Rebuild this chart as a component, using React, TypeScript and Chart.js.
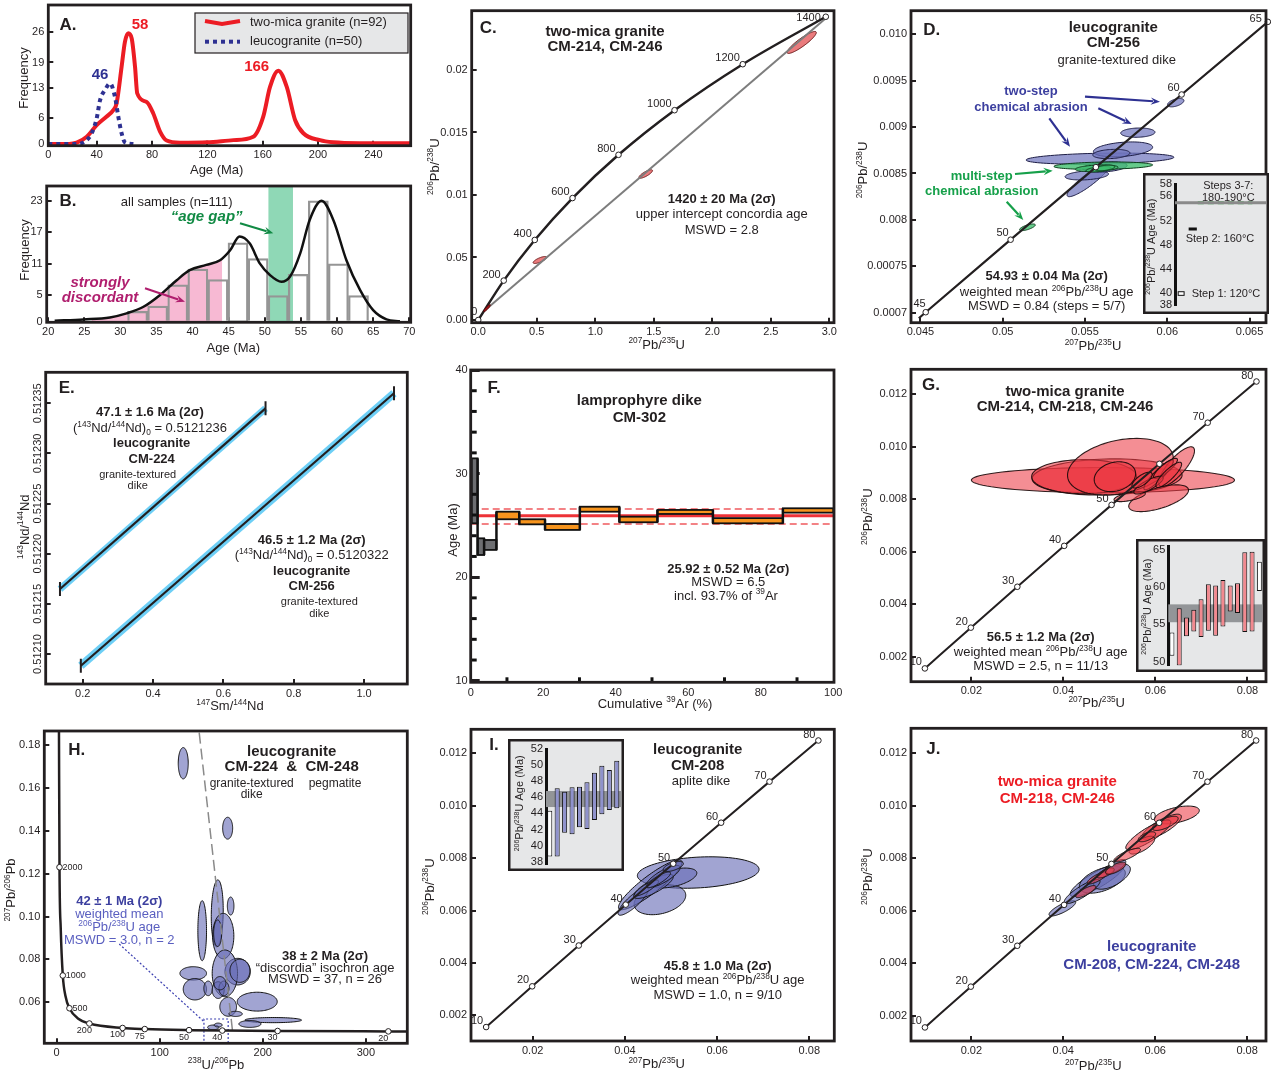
import React, { useEffect, useRef } from "react";
import { Chart, registerables } from "chart.js";

Chart.register(...registerables);

// ======================= DATA =======================
// Panel A – probability density curves
const twoMicaAge = [5, 20, 25.5, 32.8, 40, 47.2, 52, 54.4, 58, 60.4, 62.8, 65.3, 67.7, 69.3, 76.1, 80.9, 85.8, 90.6, 100, 120, 138.8, 153.2, 160.4, 165.3, 171.3, 177.4, 183.4, 189.4, 201.4, 211, 230, 267];
const twoMicaFreq = [0, 0, 0.3, 1.7, 4.4, 6.4, 7.9, 9.5, 18, 23.8, 25.8, 24.6, 18, 11.8, 9.8, 7.1, 2.9, 0.8, 0.3, 0.4, 0.9, 1.7, 6.4, 13.3, 17.1, 13.3, 5.6, 2.5, 0.9, 0.4, 0.2, 0.2];
const leucoAge = [5, 18.3, 26.7, 32.8, 36.4, 40, 42.4, 46, 49.6, 53.2, 55.6, 58, 60.4, 66.5];
const leucoFreq = [0, 0, 0, 0.9, 2.5, 6, 10.2, 12.6, 14.1, 11, 6.4, 2.5, 0.4, 0];
const aXTicks = [5, 40, 80, 120, 160, 200, 240];
const aXLabels = ["0", "40", "80", "120", "160", "200", "240"];
const aYTicks = [0, 6, 13, 19, 26];

// Panel B – histogram + KDE
const binCenters = [32.39, 35.17, 37.95, 40.73, 43.51, 46.29, 49.07, 51.85, 54.63, 57.41, 60.19, 62.97];
const binCounts = [2, 3, 7, 10, 8, 15, 12, 5, 9, 23, 11, 5];
const kdeAge = [20.9, 24.9, 28.55, 30.86, 33.2, 35.5, 37.8, 39.6, 41.9, 43.8, 45.2, 46.5, 47.9, 49.3, 50.7, 52.3, 53.5, 54.9, 56.2, 57.85, 59.5, 61.3, 63.2, 65, 66.85, 68.7];
const kdeFreq = [0.2, 0.45, 0.83, 1.6, 2.85, 5.1, 7.9, 9.8, 10.8, 11.7, 13.6, 16.2, 14.9, 11.1, 8.9, 7.6, 8.6, 13, 19.3, 23, 19.3, 11.7, 6, 2.2, 0.45, 0.1];
const pinkAge = [26, 28.55, 30.86, 33.2, 35.5, 37.8, 39.6, 41.9, 43.8, 44.1];
const pinkFreq = [0.55, 0.83, 1.6, 2.85, 5.1, 7.9, 9.8, 10.8, 11.7, 12.0];
const ageGap = [50.5, 53.9];
const bXTicks = [20, 25, 30, 35, 40, 45, 50, 55, 60, 65, 70];
const bYTicks = [0, 5, 11, 17, 23];

// Panel C – concordia (wide range)
const concAgesC = [0, 200, 400, 600, 800, 1000, 1200, 1400];
const concXC = [0, 0.2177, 0.4828, 0.8057, 1.1987, 1.6774, 2.2604, 2.970];
const concYC = [0, 0.003152, 0.006402, 0.009754, 0.013213, 0.016781, 0.02046, 0.024257];
const discXC = [0.06, 2.99];
const discYC = [0.0008, 0.0243];
const cEllipses = [
  [2.764, 0.0222, 0.125, 0.00088, 0.9],
  [1.431, 0.01168, 0.058, 0.00034, 0.8],
  [0.527, 0.0048, 0.058, 0.00028, 0.75],
];
const cEllipsesDark = [[0.075, 0.00095, 0.028, 0.00028, 0.9]];

// Panel D – CM-256 concordia
const concAgesD = [45, 50, 55, 60, 65];
const concXD = [0.04532, 0.05048, 0.05566, 0.06087, 0.06611];
const concYD = [0.007005, 0.0077864, 0.0085684, 0.0093509, 0.010134];
const dLineX = [0.0449, 0.04532, 0.05048, 0.05566, 0.06087, 0.06611];
const dLineY = [0.00694, 0.007005, 0.0077864, 0.0085684, 0.0093509, 0.010134];
const dBlueEllipses = [
  [0.06051, 0.009263, 0.0005, 0.000045, 0.5],
  [0.05821, 0.00894, 0.00104, 0.00005, 0.1],
  [0.05591, 0.00866, 0.00449, 0.00006, 0.25],
  [0.05731, 0.00876, 0.0018, 0.00008, 0.3],
  [0.0566, 0.00871, 0.00113, 0.00005, 0.2],
  [0.05521, 0.00843, 0.0013, 0.00018, 0.9],
  [0.05511, 0.00848, 0.00132, 0.00005, 0.3],
  [0.05621, 0.00857, 0.00135, 0.000055, 0.3],
];
const dGreenEllipses = [
  [0.0515, 0.00792, 0.00048, 0.000036, 0.7],
  [0.05611, 0.008584, 0.003, 0.00004, 0.2],
  [0.05571, 0.008556, 0.0013, 0.000036, 0.3],
  [0.05581, 0.008545, 0.00075, 0.00003, 0.5],
  [0.05621, 0.00856, 0.0006, 0.00003, 0.4],
];
const dMeanAge = 54.93;
const dGreenX = [25, 85];
const dStep2X = [15, 24];
const dStep2Age = 50.6;
const dStep1X = [3.5, 10];
const dStep1Age = [39.6, 40.2];
const dInsetTicks = [38, 40, 44, 48, 52, 56, 58];

// Panel E – Sm-Nd isochrons
const cm224X = [0.1354, 0.7199];
const cm224Y = [0.5121648, 0.512345];
const cm256X = [0.1947, 1.0852];
const cm256Y = [0.5120883, 0.51236];
const eYTicks = [0.5121, 0.51215, 0.5122, 0.51225, 0.5123, 0.51235];
const eYLabels = ["0.51210", "0.51215", "0.51220", "0.51225", "0.51230", "0.51235"];

// Panel F – 40Ar/39Ar step heating
const stepEdges = [0.3, 1.9, 3.7, 7.1, 13.4, 20.5, 30.1, 41.0, 51.5, 66.8, 86.1, 100];
const stepAgeLo = [25.2, 22.14, 22.63, 25.59, 25.1, 24.56, 26.32, 25.3, 26.1, 25.2, 26.23];
const stepAgeHi = [31.47, 23.75, 23.59, 26.32, 25.59, 25.13, 26.8, 25.84, 26.49, 25.7, 26.65];
const stepInPlateau = [false, false, false, true, true, true, true, true, true, true, true];
const plateauAge = 25.92;
const plateauBand = [25.13, 26.58];
const fMinorAge = [12, 14, 16, 18, 22, 24, 26, 28, 32, 34, 36, 38];
const fMinorPct = [10, 30, 50, 70, 90];

// Concordia 10–80 Ma (G, I, J)
const concAges = [10, 20, 30, 40, 50, 60, 70, 80];
const concX = [0.009897, 0.01989, 0.02999, 0.04018, 0.05048, 0.06087, 0.07137, 0.08197];
const concY = [0.001553, 0.003107, 0.004665, 0.006224, 0.007786, 0.009351, 0.010918, 0.012488];
const smallXTicks = [0.02, 0.04, 0.06, 0.08];
const smallYTicks = [0.002, 0.004, 0.006, 0.008, 0.01, 0.012];
const smallYLabels = ["0.002", "0.004", "0.006", "0.008", "0.010", "0.012"];

// Panel G
const gEllipses = [
  [0.0486, 0.00873, 0.0286, 0.00048, 0.0],
  [0.0495, 0.00885, 0.0163, 0.00069, 0.1],
  [0.0445, 0.00886, 0.0114, 0.00065, 0.0],
  [0.0524, 0.00924, 0.0115, 0.00108, 0.3],
  [0.0512, 0.00886, 0.0045, 0.00057, 0.2],
  [0.0646, 0.00924, 0.0039, 0.00076, 0.8],
  [0.0607, 0.00804, 0.0065, 0.00051, 0.6],
  [0.0544, 0.0081, 0.0034, 0.00019, 0.6],
  [0.0607, 0.00893, 0.0032, 0.00057, 0.9],
  [0.0622, 0.00918, 0.0026, 0.00038, 0.85],
  [0.0585, 0.00854, 0.0032, 0.00034, 0.8],
  [0.0571, 0.00873, 0.0022, 0.0003, 0.7],
  [0.0629, 0.00893, 0.0028, 0.00048, 0.85],
];
const gInsetLo = [50.8, 49.47, 53.4, 54.06, 53.31, 54.16, 53.49, 54.73, 56.74, 56.53, 53.98, 54.06, 59.51];
const gInsetHi = [53.93, 57.19, 55.94, 56.97, 58.4, 60.4, 60.22, 60.98, 60.22, 60.54, 64.69, 64.77, 63.43];
const gInsetUsed = [false, true, true, true, true, true, true, true, true, true, true, true, false];
const gMeanBand = [55.3, 57.7];

// Panel H – Tera-Wasserburg
const twAges = [2000, 1000, 500, 200, 100, 75, 50, 40, 30, 20];
const twX = [2.749, 5.959, 12.399, 31.735, 63.97, 85.46, 128.43, 160.66, 214.38, 321.8];
const twY = [0.123, 0.0725, 0.05722, 0.05011, 0.04802, 0.04751, 0.04702, 0.04682, 0.04662, 0.04643];
const twLineX = [2.2, 2.749, 3.9, 5.959, 8.6, 12.399, 21, 31.735, 63.97, 85.46, 128.43, 160.66, 214.38, 321.8, 345];
const twLineY = [0.19, 0.123, 0.095, 0.0725, 0.0628, 0.05722, 0.0523, 0.05011, 0.04802, 0.04751, 0.04702, 0.04682, 0.04662, 0.04643, 0.0464];
const hDiscX = [138.3, 170.7];
const hDiscY = [0.18574, 0.04628];
const hBoxX = [142.9, 166.4, 166.4, 142.9, 142.9];
const hBoxY = [0.04116, 0.04116, 0.05221, 0.05221, 0.04116];
const hLeaderX = [60.7, 142.9];
const hLeaderY = [0.0872, 0.051];
const hEllipses = [
  [122.8, 0.1715, 4.85, 0.0073, 0], [165.9, 0.1412, 4.85, 0.0051, 0], [155.8, 0.1015, 5.8, 0.0156, 0.1],
  [141.2, 0.0934, 4.2, 0.014, 0], [168.8, 0.1049, 3.2, 0.0042, 0], [161.6, 0.0909, 10.3, 0.0106, 0],
  [156.2, 0.0922, 3.9, 0.0062, 0], [175.6, 0.0743, 12.3, 0.0062, 0], [163.2, 0.0735, 12.3, 0.0109, 0],
  [132.5, 0.0735, 12.9, 0.0031, 0], [134.1, 0.0661, 11.3, 0.005, 0], [147.0, 0.0665, 4.2, 0.0034, 0],
  [156.7, 0.0657, 5.8, 0.0039, 0], [162.3, 0.0665, 4.85, 0.0034, 0], [166.4, 0.0579, 8.1, 0.0044, 0],
  [194.6, 0.0603, 19.4, 0.0044, 0], [210.1, 0.0517, 27.5, 0.0012, 0], [187.5, 0.0499, 10.7, 0.0016, 0],
  [173.6, 0.0546, 6.5, 0.0012, 0], [151.9, 0.0483, 5.5, 0.0011, 0], [156.7, 0.0494, 3.9, 0.0009, 0],
  [177.8, 0.0747, 9.7, 0.0054, 0], [158.4, 0.0689, 5.8, 0.0031, 0],
];

// Panel I
const iEllipses = [
  [0.0559, 0.00745, 0.0132, 0.0006, 0.2],
  [0.0476, 0.00641, 0.0056, 0.00057, 0.3],
  [0.0505, 0.00724, 0.0051, 0.00038, 0.5],
  [0.0455, 0.00698, 0.0069, 0.00095, 0.9],
  [0.0418, 0.00635, 0.0033, 0.00053, 0.85],
  [0.0462, 0.00692, 0.0043, 0.00046, 0.8],
  [0.0483, 0.0073, 0.0037, 0.00042, 0.8],
  [0.0505, 0.00768, 0.0022, 0.00019, 0.6],
  [0.0447, 0.00686, 0.0026, 0.0003, 0.85],
  [0.0473, 0.00717, 0.0026, 0.0003, 0.85],
];
const iInsetLo = [38.63, 38.63, 41.61, 41.41, 42.29, 42.07, 43.2, 43.9, 44.44, 44.65];
const iInsetHi = [44.35, 47.14, 46.72, 47.27, 47.34, 47.89, 49.08, 49.96, 49.42, 50.58];
const iInsetUsed = [false, true, true, true, true, true, true, true, true, true];
const iMeanBand = [44.8, 46.8];

// Panel J
const jBlueEllipses = [
  [0.0474, 0.00718, 0.0059, 0.00064, 0.85],
  [0.0485, 0.00718, 0.005, 0.00051, 0.5],
  [0.0398, 0.00609, 0.0029, 0.00029, 0.8],
  [0.0506, 0.0073, 0.004, 0.00048, 0.6],
  [0.0441, 0.00673, 0.0039, 0.00046, 0.85],
  [0.0514, 0.00768, 0.0022, 0.00027, 0.7],
];
const jRedEllipses = [
  [0.0647, 0.00965, 0.0049, 0.00034, 0.5],
  [0.0614, 0.0092, 0.0043, 0.00048, 0.8],
  [0.0585, 0.00889, 0.0049, 0.00057, 0.85],
  [0.0571, 0.0085, 0.0028, 0.00034, 0.7],
  [0.0539, 0.00812, 0.0029, 0.00026, 0.8],
  [0.0622, 0.00933, 0.0028, 0.00027, 0.7],
  [0.0582, 0.00882, 0.0019, 0.00019, 0.6],
  [0.0474, 0.00725, 0.0022, 0.00023, 0.8],
  [0.0492, 0.00744, 0.0019, 0.00019, 0.7],
  [0.0449, 0.00673, 0.0022, 0.00023, 0.8],
  [0.0514, 0.00762, 0.0022, 0.00023, 0.7],
];

// ======================= STYLE / HELPERS =======================
const FAM = '"Liberation Sans", Arial, "DejaVu Sans", sans-serif';
const INK = "#231f20";
const RED = "#ec1c24";
const NAVY = "#2e3192";
const PURP = "#3c3f9f";
const RY = -Math.PI / 2;
Chart.defaults.font.family = FAM;
Chart.defaults.color = INK;

type Txt = [string, number, number, number, string, string, string, number];
const T = (s: string, x: number, y: number, size = 13, style = "normal", color = INK, align = "center", rot = 0): Txt =>
  [s, x, y, size, style, color, align, rot];
const pts = (xs: number[], ys: number[]) => xs.map((x, i) => ({ x, y: ys[i] }));

function parseRich(s: string) {
  const out: { t: string; m: number }[] = [];
  let buf = "";
  let i = 0;
  while (i < s.length) {
    const c = s[i];
    if ((c === "^" || c === "_") && s[i + 1] === "{") {
      if (buf) { out.push({ t: buf, m: 0 }); buf = ""; }
      const j = s.indexOf("}", i);
      out.push({ t: s.slice(i + 2, j), m: c === "^" ? 1 : -1 });
      i = j + 1;
    } else { buf += c; i++; }
  }
  if (buf) out.push({ t: buf, m: 0 });
  return out;
}

function drawRich(ctx: CanvasRenderingContext2D, tx: Txt) {
  const [s, x, y, size, style, color, align, rot] = tx;
  const segs = parseRich(s);
  const fontOf = (m: number) => `${style} ${m ? Math.round(size * 6.4) / 10 : size}px ${FAM}`;
  const ws: number[] = [];
  let w = 0;
  for (const sg of segs) { ctx.font = fontOf(sg.m); const v = ctx.measureText(sg.t).width; ws.push(v); w += v; }
  ctx.save();
  ctx.translate(x, y);
  if (rot) ctx.rotate(rot);
  ctx.fillStyle = color; ctx.textAlign = "left"; ctx.textBaseline = "middle";
  let px = align === "center" ? -w / 2 : align === "right" ? -w : 0;
  segs.forEach((sg, i) => {
    ctx.font = fontOf(sg.m);
    const dy = sg.m === 1 ? -size * 0.3 : sg.m === -1 ? size * 0.32 : 0;
    ctx.fillText(sg.t, px, dy);
    px += ws[i];
  });
  ctx.restore();
}

function drawArrow(ctx: CanvasRenderingContext2D, x1: number, y1: number, x2: number, y2: number, color: string, lw = 2.2, head = 10) {
  const a = Math.atan2(y2 - y1, x2 - x1);
  ctx.save();
  ctx.strokeStyle = color; ctx.fillStyle = color; ctx.lineWidth = lw;
  ctx.beginPath(); ctx.moveTo(x1, y1); ctx.lineTo(x2 - Math.cos(a) * head * 0.7, y2 - Math.sin(a) * head * 0.7); ctx.stroke();
  ctx.beginPath();
  ctx.moveTo(x2, y2);
  ctx.lineTo(x2 - head * Math.cos(a - 0.38), y2 - head * Math.sin(a - 0.38));
  ctx.lineTo(x2 - head * 0.6 * Math.cos(a), y2 - head * 0.6 * Math.sin(a));
  ctx.lineTo(x2 - head * Math.cos(a + 0.38), y2 - head * Math.sin(a + 0.38));
  ctx.closePath(); ctx.fill();
  ctx.restore();
}

function drawEllipses(c: any, list: number[][], fill: string, stroke: string, lw = 1) {
  const { ctx, chartArea: ca } = c;
  const X = c.scales.x, Y = c.scales.y;
  ctx.save();
  ctx.beginPath(); ctx.rect(ca.left, ca.top, ca.right - ca.left, ca.bottom - ca.top); ctx.clip();
  for (const [cx, cy, sx, sy, r] of list) {
    const q = Math.sqrt(1 - r * r);
    ctx.beginPath();
    for (let k = 0; k <= 90; k++) {
      const t = (k / 90) * Math.PI * 2;
      const px = X.getPixelForValue(cx + sx * Math.cos(t));
      const py = Y.getPixelForValue(cy + sy * (r * Math.cos(t) + q * Math.sin(t)));
      if (k === 0) ctx.moveTo(px, py); else ctx.lineTo(px, py);
    }
    ctx.closePath();
    ctx.fillStyle = fill; ctx.fill();
    ctx.strokeStyle = stroke; ctx.lineWidth = lw; ctx.stroke();
  }
  ctx.restore();
}

function axis(a: any, isX: boolean, size: number) {
  return {
    type: "linear", min: a.min, max: a.max, bounds: "data", offset: false,
    afterBuildTicks: (s: any) => { s.ticks = a.ticks.map((v: number) => ({ value: v })); },
    afterFit: (s: any) => {
      if (isX) s.height = size; else s.width = size;
      s.paddingLeft = 0; s.paddingRight = 0; s.paddingTop = 0; s.paddingBottom = 0;
    },
    ticks: {
      display: !a.hideLabels, autoSkip: false, maxRotation: 0, minRotation: 0,
      padding: a.pad ?? (isX ? 8 : 9), color: INK, font: { family: FAM, size: 11 },
      callback: (_v: any, i: number) => a.labels[i],
    },
    grid: { display: true, offset: false, drawOnChartArea: false, drawTicks: !a.noTicks, tickLength: a.tl ?? -5, lineWidth: a.tw ?? 2, color: INK },
    border: { display: false },
  };
}

function concordiaSets(xs: number[], ys: number[], lw: number, lx?: number[], ly?: number[]) {
  return [
    { data: pts(xs, ys), showLine: false, pointRadius: 2.8, pointBackgroundColor: "#fff", pointBorderColor: INK, pointBorderWidth: 1, order: 0, clip: false },
    { data: pts(lx ?? xs, ly ?? ys), borderColor: INK, borderWidth: lw, pointRadius: 0, order: 1, cubicInterpolationMode: "monotone" },
  ];
}

function mainConfig(sp: any) {
  const [cx, cy, cw, ch] = sp.cell;
  const [l, t, r, b] = sp.frame;
  const padL = l - cx, padT = t - cy, padR = cx + cw - r, padB = cy + ch - b;
  const plugin = {
    id: "panelDraw",
    beforeDatasetsDraw(c: any) { if (sp.before) sp.before(c); },
    afterDatasetsDraw(c: any) {
      if (sp.after) sp.after(c);
      const m = sp.markers;
      if (m) {
        const meta = c.getDatasetMeta(m.ds);
        meta.data.forEach((p: any, i: number) => {
          if (m.skip && m.skip.includes(i)) return;
          const o = m.place ? m.place(i) : [m.dx, m.dy, m.align];
          drawRich(c.ctx, T(m.labels[i], p.x + o[0], p.y + o[1], m.size, "normal", INK, o[2]));
        });
      }
    },
    afterDraw(c: any) {
      const ctx = c.ctx, ca = c.chartArea;
      ctx.save();
      ctx.strokeStyle = INK; ctx.lineWidth = 2.8;
      ctx.strokeRect(ca.left, ca.top, ca.right - ca.left, ca.bottom - ca.top);
      ctx.restore();
      if (sp.rotYLabels) {
        const ys = c.scales.y;
        sp.y.ticks.forEach((v: number, i: number) =>
          drawRich(ctx, T(sp.y.labels[i], ca.left - 8, ys.getPixelForValue(v), 11, "normal", INK, "center", RY)));
      }
      ctx.save();
      ctx.translate(-cx, -cy);
      if (sp.overlay) sp.overlay(ctx);
      sp.texts.forEach((tx: Txt) => drawRich(ctx, tx));
      ctx.restore();
    },
  };
  return {
    type: "line",
    data: { datasets: sp.datasets },
    options: {
      animation: false, responsive: false, devicePixelRatio: 1, events: [],
      layout: { padding: { left: 0, top: padT, right: padR, bottom: 0 } },
      plugins: { legend: { display: false }, tooltip: { enabled: false } },
      scales: { x: axis(sp.x, true, padB), y: axis(sp.y, false, padL) },
    },
    plugins: [plugin],
  };
}

function insetConfig(sp: any) {
  const [cx, cy, cw, ch] = sp.rect;
  const [l, t, r, b] = sp.area;
  const padL = l - cx, padT = t - cy, padR = cx + cw - r, padB = cy + ch - b;
  const plugin = {
    id: "insetDraw",
    beforeDraw(c: any) {
      const ctx = c.ctx;
      ctx.save();
      ctx.fillStyle = "#e6e7e8"; ctx.fillRect(0, 0, cw, ch);
      ctx.strokeStyle = INK; ctx.lineWidth = 2.5; ctx.strokeRect(1.25, 1.25, cw - 2.5, ch - 2.5);
      ctx.restore();
    },
    beforeDatasetsDraw(c: any) {
      if (!sp.band) return;
      const Y = c.scales.y, ctx = c.ctx;
      const yt = Y.getPixelForValue(sp.band[1]), yb = Y.getPixelForValue(sp.band[0]);
      ctx.save(); ctx.fillStyle = "#939598";
      ctx.fillRect(c.chartArea.left, yt, cw - 2.5 - c.chartArea.left, yb - yt);
      ctx.restore();
    },
    afterDatasetsDraw(c: any) { if (sp.after) sp.after(c); },
    afterDraw(c: any) {
      const ctx = c.ctx;
      ctx.save(); ctx.translate(-cx, -cy);
      sp.texts.forEach((tx: Txt) => drawRich(ctx, tx));
      ctx.restore();
    },
  };
  return {
    type: sp.type,
    data: { labels: sp.labels, datasets: sp.datasets },
    options: {
      animation: false, responsive: false, devicePixelRatio: 1, events: [],
      layout: { padding: { left: 0, top: padT, right: padR, bottom: padB } },
      plugins: { legend: { display: false }, tooltip: { enabled: false } },
      scales: {
        x: sp.type === "bar" ? { type: "category", display: false, offset: true } : { type: "linear", display: false, min: 0, max: 100 },
        y: {
          type: "linear", min: sp.y.min, max: sp.y.max, bounds: "data",
          afterBuildTicks: (s: any) => { s.ticks = sp.y.ticks.map((v: number) => ({ value: v })); },
          afterFit: (s: any) => { s.width = padL; s.paddingLeft = 0; s.paddingRight = 0; s.paddingTop = 0; s.paddingBottom = 0; },
          ticks: { autoSkip: false, padding: 3, color: INK, font: { family: FAM, size: 11 }, callback: (v: any) => String(v) },
          grid: { display: false, drawTicks: false, tickLength: 0 },
          border: { display: true, width: 3, color: "#111" },
        },
      },
    },
    plugins: [plugin],
  };
}

// ======================= PANELS =======================
const xTitle = (s: string, x: number, y: number) => T(s, x, y, 13);
const yTitle = (s: string, x: number, y: number) => T(s, x, y, 13, "normal", INK, "center", RY);

const specs: any[] = [
  // ---------- A ----------
  {
    cell: [0, 0, 420, 180], frame: [48.3, 5, 410.7, 145.7],
    x: { min: 5, max: 267, ticks: aXTicks, labels: aXLabels },
    y: { min: -0.4, max: 32.4, ticks: aYTicks, labels: aYTicks.map(String) },
    datasets: [
      { data: pts(leucoAge, leucoFreq), borderColor: NAVY, borderWidth: 4, borderDash: [4, 4], pointRadius: 0, cubicInterpolationMode: "monotone", order: 0 },
      { data: pts(twoMicaAge, twoMicaFreq), borderColor: RED, borderWidth: 4, pointRadius: 0, cubicInterpolationMode: "monotone", order: 1 },
    ],
    overlay: (ctx: CanvasRenderingContext2D) => {
      ctx.save();
      ctx.fillStyle = "#e6e7e8"; ctx.fillRect(195, 13, 213, 40);
      ctx.strokeStyle = INK; ctx.lineWidth = 1.2; ctx.strokeRect(195, 13, 213, 40);
      ctx.lineWidth = 4; ctx.strokeStyle = RED;
      ctx.beginPath(); ctx.moveTo(205, 21); ctx.lineTo(222, 24); ctx.lineTo(240, 21); ctx.stroke();
      ctx.strokeStyle = NAVY; ctx.setLineDash([4, 4]);
      ctx.beginPath(); ctx.moveTo(205, 41.7); ctx.lineTo(240, 41.7); ctx.stroke();
      ctx.restore();
    },
    texts: [
      T("A.", 68, 25, 17, "bold"),
      T("58", 140, 25, 15, "bold", RED),
      T("46", 100, 75, 15, "bold", NAVY),
      T("166", 256.7, 67, 15, "bold", RED),
      T("two-mica granite (n=92)", 250, 22.7, 13, "normal", INK, "left"),
      T("leucogranite (n=50)", 250, 41.7, 13, "normal", INK, "left"),
      xTitle("Age (Ma)", 216.7, 170),
      yTitle("Frequency", 24, 78),
    ],
  },
  // ---------- B ----------
  {
    cell: [0, 180, 420, 180], frame: [46.7, 186, 410.7, 322.3],
    x: { min: 19.8, max: 70.2, ticks: bXTicks, labels: bXTicks.map(String) },
    y: { min: -0.1, max: 25.8, ticks: bYTicks, labels: bYTicks.map(String) },
    datasets: [
      { type: "line", data: pts(kdeAge, kdeFreq), borderColor: "#111", borderWidth: 2.5, pointRadius: 0, cubicInterpolationMode: "monotone", order: 0 },
      { type: "bar", data: pts(binCenters, binCounts), backgroundColor: "rgba(255,255,255,0)", borderColor: "#959595", borderWidth: 1.6, barPercentage: 1, categoryPercentage: 1, order: 1 },
      { type: "line", data: pts(pinkAge, pinkFreq), borderWidth: 0, borderColor: "rgba(0,0,0,0)", backgroundColor: "#f7b9d3", fill: "origin", pointRadius: 0, cubicInterpolationMode: "monotone", order: 2 },
    ],
    before: (c: any) => {
      const X = c.scales.x, ca = c.chartArea, ctx = c.ctx;
      const x0 = X.getPixelForValue(ageGap[0]), x1 = X.getPixelForValue(ageGap[1]);
      ctx.save(); ctx.fillStyle = "#8fd8b6"; ctx.fillRect(x0, ca.top, x1 - x0, ca.bottom - ca.top); ctx.restore();
    },
    overlay: (ctx: CanvasRenderingContext2D) => {
      drawArrow(ctx, 240, 223.3, 273.3, 233.3, "#118a44");
      drawArrow(ctx, 145, 288.3, 185, 301.7, "#b01e6e");
    },
    texts: [
      T("B.", 68, 201.7, 17, "bold"),
      T("all samples (n=111)", 176.7, 202.7, 13),
      T("\u201cage gap\u201d", 206.7, 216.7, 15, "italic bold", "#118a44"),
      T("strongly", 100, 283.3, 15, "italic bold", "#b01e6e"),
      T("discordant", 100, 298.3, 15, "italic bold", "#b01e6e"),
      xTitle("Age (Ma)", 233.3, 348.3),
      yTitle("Frequency", 25, 250),
    ],
  },
  // ---------- C ----------
  {
    cell: [420, 0, 430, 360], frame: [471.7, 10.7, 834, 322.7],
    x: { min: -0.056, max: 3.04, ticks: [0, 0.5, 1, 1.5, 2, 2.5, 3], labels: ["0.0", "0.5", "1.0", "1.5", "2.0", "2.5", "3.0"] },
    y: { min: -0.000216, max: 0.02474, ticks: [0, 0.005, 0.01, 0.015, 0.02], labels: ["0.00", "0.05", "0.01", "0.015", "0.02"] },
    datasets: [
      ...concordiaSets(concXC, concYC, 2.5),
      { data: pts(discXC, discYC), borderColor: "#7d7d7d", borderWidth: 2, pointRadius: 0, order: 2 },
    ],
    before: (c: any) => drawEllipses(c, cEllipses, "#ea7b7d", "#6b1a1a", 1),
    after: (c: any) => drawEllipses(c, cEllipsesDark, "#a8151c", "#5a0a0a", 1),
    markers: {
      ds: 0, labels: concAgesC.map(String), size: 11,
      place: (i: number) => (i === 7 ? [-5, 1, "right"] : i === 0 ? [-1, -8, "right"] : [-3, -6, "right"]),
    },
    texts: [
      T("C.", 488.3, 28.3, 17, "bold"),
      T("two-mica granite", 605, 31.7, 15, "bold"),
      T("CM-214, CM-246", 605, 46.7, 15, "bold"),
      T("1420 \u00b1 20 Ma (2\u03c3)", 721.7, 199, 13, "bold"),
      T("upper intercept concordia age", 721.7, 214.3, 13),
      T("MSWD = 2.8", 721.7, 230, 13),
      xTitle("^{207}Pb/^{235}U", 656.7, 345),
      yTitle("^{206}Pb/^{238}U", 435, 166.7),
    ],
  },
  // ---------- D ----------
  {
    cell: [850, 0, 421, 360], frame: [911, 10.7, 1268, 322.7],
    x: { min: 0.044426, max: 0.065997, ticks: [0.045, 0.05, 0.055, 0.06, 0.065], labels: ["0.045", "0.05", "0.055", "0.06", "0.065"] },
    y: { min: 0.006892, max: 0.010254, ticks: [0.007, 0.0075, 0.008, 0.0085, 0.009, 0.0095, 0.01], labels: ["0.0007", "0.00075", "0.008", "0.0085", "0.009", "0.0095", "0.010"] },
    datasets: concordiaSets(concXD, concYD, 2.2, dLineX, dLineY),
    before: (c: any) => {
      drawEllipses(c, dBlueEllipses, "rgba(112,118,190,0.72)", "#1d1d45", 1);
      drawEllipses(c, dGreenEllipses, "rgba(64,190,110,0.8)", "#0d3d1d", 1);
    },
    markers: {
      ds: 0, labels: concAgesD.map(String), size: 11, skip: [2],
      place: (i: number) => (i === 4 ? [-6, -3, "right"] : i === 0 ? [0, -8, "right"] : [-2, -7, "right"]),
    },
    overlay: (ctx: CanvasRenderingContext2D) => {
      drawArrow(ctx, 1085, 96.7, 1160, 101.7, NAVY);
      drawArrow(ctx, 1098.3, 108.3, 1131.7, 124, NAVY);
      drawArrow(ctx, 1049.3, 118.3, 1070, 146.7, NAVY);
      drawArrow(ctx, 1015, 174, 1052.7, 170.7, "#16a04a");
      drawArrow(ctx, 1006.7, 201.7, 1023.3, 220, "#16a04a");
    },
    texts: [
      T("D.", 931.7, 30.7, 17, "bold"),
      T("leucogranite", 1113.3, 28.3, 15, "bold"),
      T("CM-256", 1113.3, 42.7, 15, "bold"),
      T("granite-textured dike", 1116.7, 60, 13),
      T("two-step", 1031, 91.7, 13, "bold", PURP),
      T("chemical abrasion", 1031, 107.3, 13, "bold", PURP),
      T("multi-step", 981.7, 176, 13, "bold", "#16a04a"),
      T("chemical abrasion", 981.7, 191.7, 13, "bold", "#16a04a"),
      T("54.93 \u00b1 0.04 Ma (2\u03c3)", 1046.7, 276.7, 13, "bold"),
      T("weighted mean ^{206}Pb/^{238}U age", 1046.7, 292.3, 13),
      T("MSWD = 0.84 (steps = 5/7)", 1046.7, 306.7, 13),
      xTitle("^{207}Pb/^{235}U", 1093, 346.7),
      yTitle("^{206}Pb/^{238}U", 863.3, 170),
    ],
  },
  // ---------- E ----------
  {
    cell: [0, 360, 420, 360], frame: [45.7, 372.3, 407.3, 684],
    x: { min: 0.0948, max: 1.123, ticks: [0.2, 0.4, 0.6, 0.8, 1.0], labels: ["0.2", "0.4", "0.6", "0.8", "1.0"] },
    y: { min: 0.5120701, max: 0.5123809, ticks: eYTicks, labels: eYLabels, hideLabels: true },
    rotYLabels: true,
    datasets: [
      { data: pts(cm224X, cm224Y), borderColor: INK, borderWidth: 2.2, pointStyle: "line", pointRotation: 90, pointRadius: 7, pointBorderWidth: 2, pointBorderColor: INK, order: 0 },
      { data: pts(cm256X, cm256Y), borderColor: INK, borderWidth: 2.2, pointStyle: "line", pointRotation: 90, pointRadius: 7, pointBorderWidth: 2, pointBorderColor: INK, order: 0 },
      { data: pts(cm224X, cm224Y), borderColor: "#6dcff6", borderWidth: 7, pointRadius: 0, order: 2 },
      { data: pts(cm256X, cm256Y), borderColor: "#6dcff6", borderWidth: 8, pointRadius: 0, order: 2 },
    ],
    texts: [
      T("E.", 66.7, 388.3, 17, "bold"),
      T("47.1 \u00b1 1.6 Ma (2\u03c3)", 150, 412.3, 13, "bold"),
      T("(^{143}Nd/^{144}Nd)_{0} = 0.5121236", 150, 428.3, 13),
      T("leucogranite", 151.7, 443.3, 13, "bold"),
      T("CM-224", 151.7, 459, 13, "bold"),
      T("granite-textured", 137.7, 475, 11),
      T("dike", 137.7, 486, 11),
      T("46.5 \u00b1 1.2 Ma (2\u03c3)", 311.7, 540, 13, "bold"),
      T("(^{143}Nd/^{144}Nd)_{0} = 0.5120322", 311.7, 555.7, 13),
      T("leucogranite", 311.7, 571, 13, "bold"),
      T("CM-256", 311.7, 586.7, 13, "bold"),
      T("granite-textured", 319.3, 602.3, 11),
      T("dike", 319.3, 614, 11),
      xTitle("^{147}Sm/^{144}Nd", 230, 706.7),
      yTitle("^{143}Nd/^{144}Nd", 25, 526.7),
    ],
  },
  // ---------- F ----------
  {
    cell: [420, 360, 430, 360], frame: [470.7, 370, 834, 682.3],
    x: { min: 0, max: 100.2, ticks: [0, 20, 40, 60, 80, 100], labels: ["0", "20", "40", "60", "80", "100"], noTicks: true, pad: 4 },
    y: { min: 9.85, max: 40, ticks: [10, 20, 30, 40], labels: ["10", "20", "30", "40"], tl: -9, tw: 3, pad: 12 },
    datasets: [
      { data: pts([0, 100.2], [plateauAge, plateauAge]), borderColor: "#ed3237", borderWidth: 3, pointRadius: 0, order: 1 },
      { data: pts([0, 100.2], [plateauBand[1], plateauBand[1]]), borderColor: "#ef5a5e", borderWidth: 1.4, borderDash: [7, 4], pointRadius: 0, order: 2 },
      { data: pts([0, 100.2], [plateauBand[0], plateauBand[0]]), borderColor: "#ef5a5e", borderWidth: 1.4, borderDash: [7, 4], pointRadius: 0, order: 2 },
    ],
    after: (c: any) => {
      const X = c.scales.x, Y = c.scales.y, ctx = c.ctx, ca = c.chartArea;
      ctx.save();
      for (let i = 0; i < stepAgeLo.length; i++) {
        const x0 = X.getPixelForValue(stepEdges[i]), x1 = X.getPixelForValue(stepEdges[i + 1]);
        const yt = Y.getPixelForValue(stepAgeHi[i]), yb = Y.getPixelForValue(stepAgeLo[i]);
        ctx.fillStyle = stepInPlateau[i] ? "#f7941d" : "#6d6e71";
        ctx.fillRect(x0, yt, x1 - x0, yb - yt);
        ctx.strokeStyle = "#111"; ctx.lineWidth = 1.8;
        ctx.strokeRect(x0, yt, x1 - x0, yb - yt);
      }
      ctx.lineWidth = 2.5; ctx.strokeStyle = "#111";
      for (let i = 0; i < stepAgeLo.length - 1; i++) {
        const xb = X.getPixelForValue(stepEdges[i + 1]);
        const lo = Math.min(stepAgeLo[i], stepAgeLo[i + 1]), hi = Math.max(stepAgeHi[i], stepAgeHi[i + 1]);
        ctx.beginPath(); ctx.moveTo(xb, Y.getPixelForValue(hi)); ctx.lineTo(xb, Y.getPixelForValue(lo)); ctx.stroke();
      }
      ctx.lineWidth = 3;
      for (const v of fMinorAge) {
        const y = Y.getPixelForValue(v);
        ctx.beginPath(); ctx.moveTo(ca.left, y); ctx.lineTo(ca.left + 6, y); ctx.stroke();
      }
      for (const v of fMinorPct) {
        const x = X.getPixelForValue(v);
        ctx.beginPath(); ctx.moveTo(x, ca.bottom); ctx.lineTo(x, ca.bottom - 5); ctx.stroke();
      }
      ctx.restore();
    },
    texts: [
      T("F.", 494, 388.3, 17, "bold"),
      T("lamprophyre dike", 639.3, 400.7, 15, "bold"),
      T("CM-302", 639.3, 418.3, 15, "bold"),
      T("25.92 \u00b1 0.52 Ma (2\u03c3)", 728.3, 569.3, 13, "bold"),
      T("MSWD = 6.5", 728.3, 582.7, 13),
      T("incl. 93.7% of ^{39}Ar", 726, 596, 13),
      xTitle("Cumulative ^{39}Ar (%)", 655, 704),
      yTitle("Age (Ma)", 453.3, 530),
    ],
  },
  // ---------- G ----------
  {
    cell: [850, 360, 421, 360], frame: [911, 369.3, 1268, 681.7],
    x: { min: 0.00688, max: 0.08404, ticks: smallXTicks, labels: ["0.02", "0.04", "0.06", "0.08"] },
    y: { min: 0.001047, max: 0.012953, ticks: smallYTicks, labels: smallYLabels },
    datasets: concordiaSets(concX, concY, 2),
    before: (c: any) => drawEllipses(c, gEllipses, "rgba(236,56,66,0.57)", "rgba(25,10,10,0.9)", 1.1),
    markers: { ds: 0, labels: concAges.map(String), dx: -3, dy: -6, align: "right", size: 11, skip: [5] },
    texts: [
      T("G.", 931, 385, 17, "bold"),
      T("two-mica granite", 1065, 391.7, 15, "bold"),
      T("CM-214, CM-218, CM-246", 1065, 407.3, 15, "bold"),
      T("56.5 \u00b1 1.2 Ma (2\u03c3)", 1040.7, 637.7, 13, "bold"),
      T("weighted mean ^{206}Pb/^{238}U age", 1040.7, 652.3, 13),
      T("MSWD = 2.5, n = 11/13", 1040.7, 666.7, 13),
      xTitle("^{207}Pb/^{235}U", 1096.7, 703.3),
      yTitle("^{206}Pb/^{238}U", 868.3, 516.7),
    ],
  },
  // ---------- H ----------
  {
    cell: [0, 720, 420, 353], frame: [44.3, 731, 407.3, 1043.3],
    x: { min: -12, max: 340.2, ticks: [0, 100, 200, 300], labels: ["0", "100", "200", "300"] },
    y: { min: 0.04088, max: 0.18653, ticks: [0.06, 0.08, 0.1, 0.12, 0.14, 0.16, 0.18], labels: ["0.06", "0.08", "0.10", "0.12", "0.14", "0.16", "0.18"] },
    datasets: [
      ...concordiaSets(twX, twY, 2.5, twLineX, twLineY),
      { data: pts(hDiscX, hDiscY), borderColor: "#8a8a8a", borderWidth: 1.5, borderDash: [11, 5], pointRadius: 0, order: 2 },
      { data: pts(hBoxX, hBoxY), borderColor: "#3b3fb0", borderWidth: 1.2, borderDash: [2, 2], pointRadius: 0, order: 3 },
      { data: pts(hLeaderX, hLeaderY), borderColor: "#3b3fb0", borderWidth: 1.2, borderDash: [2, 2], pointRadius: 0, order: 3 },
    ],
    before: (c: any) => drawEllipses(c, hEllipses, "rgba(104,108,182,0.62)", "#111", 1),
    markers: {
      ds: 0, labels: twAges.map(String), size: 9,
      place: (i: number) => (i < 3 ? [3, 0, "left"] : [-5, 7, "center"]),
    },
    texts: [
      T("H.", 76.7, 750, 17, "bold"),
      T("leucogranite", 291.7, 752.3, 15, "bold"),
      T("CM-224  &  CM-248", 291.7, 767.3, 15, "bold"),
      T("granite-textured", 251.7, 783.3, 12),
      T("dike", 251.7, 795, 12),
      T("pegmatite", 335, 783.3, 12),
      T("42 \u00b1 1 Ma (2\u03c3)", 119.3, 901.7, 13, "bold", PURP),
      T("weighted mean", 119.3, 914.3, 13, "normal", "#5a5fc0"),
      T("^{206}Pb/^{238}U age", 119.3, 927.3, 13, "normal", "#5a5fc0"),
      T("MSWD = 3.0, n = 2", 119.3, 940, 13, "normal", "#5a5fc0"),
      T("38 \u00b1 2 Ma (2\u03c3)", 325, 956.7, 13, "bold"),
      T("\u201cdiscordia\u201d isochron age", 325, 968.3, 13),
      T("MSWD = 37, n = 26", 325, 979.3, 13),
      xTitle("^{238}U/^{206}Pb", 216, 1065),
      yTitle("^{207}Pb/^{206}Pb", 11.7, 890),
    ],
  },
  // ---------- I ----------
  {
    cell: [420, 720, 430, 353], frame: [471, 729.3, 834.3, 1041],
    x: { min: 0.006616, max: 0.08542, ticks: smallXTicks, labels: ["0.02", "0.04", "0.06", "0.08"] },
    y: { min: 0.001021, max: 0.012915, ticks: smallYTicks, labels: smallYLabels },
    datasets: concordiaSets(concX, concY, 2),
    before: (c: any) => drawEllipses(c, iEllipses, "rgba(104,108,182,0.62)", "#111", 1),
    markers: { ds: 0, labels: concAges.map(String), dx: -3, dy: -6, align: "right", size: 11 },
    texts: [
      T("I.", 494, 745, 17, "bold"),
      T("leucogranite", 697.7, 750, 15, "bold"),
      T("CM-208", 697.7, 765.7, 15, "bold"),
      T("aplite dike", 701, 781, 13),
      T("45.8 \u00b1 1.0 Ma (2\u03c3)", 717.7, 966.7, 13, "bold"),
      T("weighted mean ^{206}Pb/^{238}U age", 717.7, 980.7, 13),
      T("MSWD = 1.0, n = 9/10", 717.7, 995, 13),
      xTitle("^{207}Pb/^{235}U", 656.7, 1064.3),
      yTitle("^{206}Pb/^{238}U", 430, 886.7),
    ],
  },
  // ---------- J ----------
  {
    cell: [850, 720, 421, 353], frame: [911, 728.3, 1268, 1041],
    x: { min: 0.006867, max: 0.08411, ticks: smallXTicks, labels: ["0.02", "0.04", "0.06", "0.08"] },
    y: { min: 0.001036, max: 0.012953, ticks: smallYTicks, labels: smallYLabels },
    datasets: concordiaSets(concX, concY, 2),
    before: (c: any) => {
      drawEllipses(c, jBlueEllipses, "rgba(104,108,182,0.62)", "#111", 1);
      drawEllipses(c, jRedEllipses, "rgba(236,60,70,0.58)", "#111", 1);
    },
    markers: { ds: 0, labels: concAges.map(String), dx: -3, dy: -6, align: "right", size: 11 },
    texts: [
      T("J.", 933.3, 749.3, 17, "bold"),
      T("two-mica granite", 1057.3, 781.7, 15, "bold", RED),
      T("CM-218, CM-246", 1057.3, 799.3, 15, "bold", RED),
      T("leucogranite", 1151.7, 946.7, 15, "bold", PURP),
      T("CM-208, CM-224, CM-248", 1151.7, 965, 15, "bold", PURP),
      xTitle("^{207}Pb/^{235}U", 1093.3, 1066.7),
      yTitle("^{206}Pb/^{238}U", 868.3, 876.7),
    ],
  },
];

const insets: any[] = [
  // D inset – step ages
  {
    type: "line", rect: [1143, 173, 126, 141], area: [1175, 184.3, 1266, 305],
    y: { min: 38, max: 58, ticks: dInsetTicks },
    datasets: [
      { data: pts([0, 100], [dMeanAge, dMeanAge]), borderColor: "#8a8a8a", borderWidth: 3, pointRadius: 0 },
      { data: pts(dGreenX, [dMeanAge, dMeanAge]), borderColor: "#39b54a", borderWidth: 3, borderDash: [6, 4], pointRadius: 0 },
      { data: pts(dStep2X, [dStep2Age, dStep2Age]), borderColor: "#111", borderWidth: 3, pointRadius: 0 },
    ],
    after: (c: any) => {
      const X = c.scales.x, Y = c.scales.y, ctx = c.ctx;
      const x0 = X.getPixelForValue(dStep1X[0]), x1 = X.getPixelForValue(dStep1X[1]);
      const yt = Y.getPixelForValue(dStep1Age[1]), yb = Y.getPixelForValue(dStep1Age[0]);
      ctx.save(); ctx.fillStyle = "#fff"; ctx.fillRect(x0, yt, x1 - x0, yb - yt);
      ctx.strokeStyle = "#111"; ctx.lineWidth = 1; ctx.strokeRect(x0, yt, x1 - x0, yb - yt); ctx.restore();
    },
    texts: [
      T("^{206}Pb/^{238}U Age (Ma)", 1151.7, 246.7, 11, "normal", INK, "center", RY),
      T("Steps 3-7:", 1228.3, 186, 11),
      T("180-190\u00b0C", 1228.3, 198.3, 11),
      T("Step 2: 160\u00b0C", 1220, 239.3, 11),
      T("Step 1: 120\u00b0C", 1226, 294, 11),
    ],
  },
  // G inset
  {
    type: "bar", rect: [1136, 539, 129, 133], area: [1168.3, 546.3, 1263, 665.4],
    y: { min: 49.5, max: 65.5, ticks: [50, 55, 60, 65] },
    band: gMeanBand,
    labels: gInsetLo.map((_, i) => String(i + 1)),
    datasets: [{
      data: gInsetLo.map((v, i) => [v, gInsetHi[i]]),
      backgroundColor: gInsetUsed.map((u) => (u ? "#f2898f" : "#ffffff")),
      borderColor: "#111", borderWidth: 1, borderSkipped: false, barPercentage: 0.68, categoryPercentage: 1,
    }],
    texts: [T("^{206}Pb/^{238}U Age (Ma)", 1147.7, 606.7, 11, "normal", INK, "center", RY)],
  },
  // I inset
  {
    type: "bar", rect: [508, 739, 116, 132], area: [546, 749.3, 620.5, 864],
    y: { min: 37.7, max: 52, ticks: [38, 40, 42, 44, 46, 48, 50, 52] },
    band: iMeanBand,
    labels: iInsetLo.map((_, i) => String(i + 1)),
    datasets: [{
      data: iInsetLo.map((v, i) => [v, iInsetHi[i]]),
      backgroundColor: iInsetUsed.map((u) => (u ? "#8f92cc" : "#ffffff")),
      borderColor: "#111", borderWidth: 1, borderSkipped: false, barPercentage: 0.68, categoryPercentage: 1,
    }],
    texts: [T("^{206}Pb/^{238}U Age (Ma)", 520, 803.3, 11, "normal", INK, "center", RY)],
  },
];

// ======================= COMPONENTS =======================
function ChartBox({ rect, make }: { rect: number[]; make: () => any }) {
  const ref = useRef<HTMLCanvasElement>(null);
  useEffect(() => {
    const chart = new Chart(ref.current as HTMLCanvasElement, make());
    return () => chart.destroy();
  }, []);
  return (
    <canvas
      ref={ref}
      width={rect[2]}
      height={rect[3]}
      style={{ position: "absolute", left: rect[0], top: rect[1], width: rect[2], height: rect[3] }}
    />
  );
}

export default function App() {
  return (
    <div style={{ position: "absolute", left: 0, top: 0, width: 1271, height: 1073, overflow: "hidden", background: "#fff" }}>
      {specs.map((s, i) => (
        <ChartBox key={"p" + i} rect={s.cell} make={() => mainConfig(s)} />
      ))}
      {insets.map((s, i) => (
        <ChartBox key={"i" + i} rect={s.rect} make={() => insetConfig(s)} />
      ))}
    </div>
  );
}
